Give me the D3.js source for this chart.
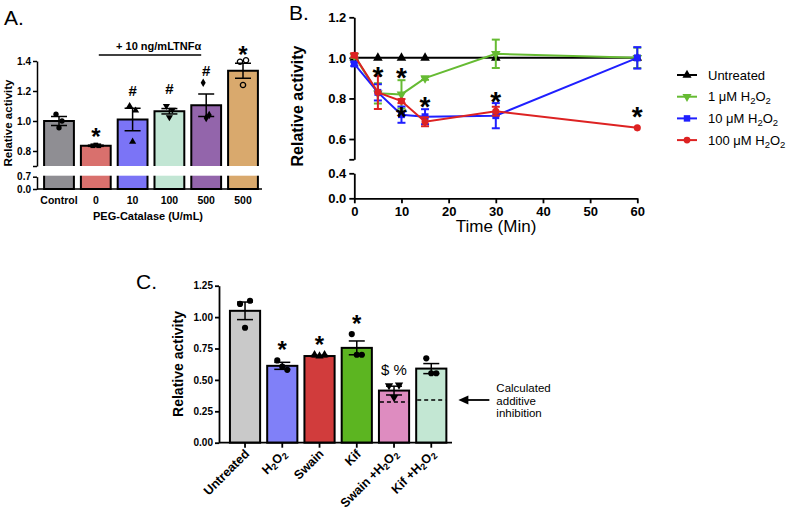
<!DOCTYPE html>
<html><head><meta charset="utf-8">
<script src="https://cdn.jsdelivr.net/npm/d3@7"></script>
<style>body{margin:0;background:#fff}svg{display:block}</style>
</head><body>
<script>
// ---------- Panel A data ----------
const catsA = ["Control","0","10","100","500","500"];
const meansA = [1.00, 0.835, 1.01, 1.065, 1.105, 1.335];
const semA = [0.03, 0.004, 0.075, 0.018, 0.075, 0.05];
const pointsA = [[1.045,1.0,0.955],[0.835,0.835,0.84],[1.10,1.07,0.862],[1.10,1.075,1.025],[1.255,1.04,1.02],[1.395,1.405,1.24]];
const colorsA = ["#8f8e93","#d9706d","#7b74f6","#c2e6d4","#9365ab","#d9a96d"];
const symA = ["circle","square","triangle","triangleDown","diamond","openCircle"];
const annA = [{i:1,t:"*",v:0.93},{i:2,t:"#",v:1.20},{i:3,t:"#",v:1.215},{i:4,t:"#",v:1.335},{i:5,t:"*",v:1.475}];
const ticksAtop = [0.8,1.0,1.2,1.4];
const ticksAbot = [0,0.7];

// ---------- Panel B data ----------
const timesB = [0,5,10,15,30,60];
const seriesB = [
  {name:"Untreated", sym:"triangle", color:"#000000", v:[1,1,1,1,1,1], e:[0,0,0,0,0,0]},
  {name:"1 μM H_2O_2", sym:"triangleDown", color:"#66bb33", v:[1.01,0.825,0.82,0.90,1.02,1.0], e:[0.01,0.05,0.07,0.008,0.07,0.05]},
  {name:"10 μM H_2O_2", sym:"square", color:"#1f1fff", v:[0.97,0.83,0.72,0.71,0.715,1.0], e:[0.01,0.04,0.04,0.037,0.062,0.053]},
  {name:"100 μM H_2O_2", sym:"circle", color:"#dd2222", v:[1.013,0.83,0.787,0.685,0.737,0.655], e:[0.01,0.082,0.01,0.022,0.022,0]}
];
const annB = [{t:5,v:0.939},{t:10,v:0.934},{t:10,v:0.742},{t:15,v:0.792},{t:30,v:0.816},{t:60,v:0.742}];
const xTicksB = [0,10,20,30,40,50,60];
const ticksBtop = [0.6,0.8,1.0,1.2];
const ticksBbot = [0,0.4];

// ---------- Panel C data ----------
const catsC = ["Untreated","H_2O_2","Swain","Kif","Swain +H_2O_2","Kif +H_2O_2"];
const meansC = [1.05, 0.612, 0.69, 0.755, 0.415, 0.59];
const semC = [0.07, 0.028, 0.006, 0.055, 0.035, 0.04];
const pointsC = [[1.105,1.13,0.915],[0.655,0.58,0.605],[0.70,0.70,0.69],[0.865,0.70,0.70],[0.455,0.46,0.36],[0.672,0.553,0.553]];
const colorsC = ["#c9c9c9","#8080f8","#d13c3c","#5cb521","#de8cc0","#c3e7d3"];
const symC = ["circle","circle","triangle","circle","triangleDown","circle"];
const dashedC = [null,null,null,null,0.325,0.34];
const annC = [{i:1,t:"*",v:0.78},{i:2,t:"*",v:0.82},{i:3,t:"*",v:0.99},{i:4,t:"$ %",v:0.58}];
const ticksC = [0,0.25,0.5,0.75,1.0,1.25];
const noteC = ["Calculated","additive","inhibition"];

// ---------- helpers ----------
const FONT = "'Liberation Sans', Arial, Helvetica, sans-serif";
const svg = d3.select("body").append("svg").attr("width",789).attr("height",511)
  .style("font-family", FONT);

function symPath(kind, size){
  let type = d3.symbolCircle, rot = 0;
  if (kind==="square") type = d3.symbolSquare;
  else if (kind==="triangle") type = d3.symbolTriangle;
  else if (kind==="triangleDown") { type = d3.symbolTriangle; rot = 180; }
  else if (kind==="diamond") type = d3.symbolDiamond;
  return {d: d3.symbol().type(type).size(size)(), rot};
}
function drawSym(g, kind, x, y, size, color){
  const s = symPath(kind, size);
  const p = g.append("path").attr("d", s.d)
    .attr("transform", `translate(${x},${y}) rotate(${s.rot})`);
  if (kind==="openCircle") p.attr("fill","none").attr("stroke",color).attr("stroke-width",1.3);
  else p.attr("fill",color);
  return p;
}
function rich(sel, str, subSize, shift){
  const parts = str.split(/_(\d)/);
  let shifted = false;
  parts.forEach((p,i)=>{
    if (p==="") return;
    if (i%2===1){ sel.append("tspan").attr("font-size",subSize).attr("dy",shift).text(p); shifted=true; }
    else { const t = sel.append("tspan").text(p); if (shifted){ t.attr("dy",-shift); shifted=false; } }
  });
}
function errBar(g, x, y1, y2, cap, color, w){
  g.append("line").attr("x1",x).attr("x2",x).attr("y1",y1).attr("y2",y2).attr("stroke",color).attr("stroke-width",w);
  [y1,y2].forEach(y=> g.append("line").attr("x1",x-cap).attr("x2",x+cap).attr("y1",y).attr("y2",y).attr("stroke",color).attr("stroke-width",w));
}
function styleAxis(g, fs, sw){
  g.selectAll("path,line").attr("stroke","#000").attr("stroke-width",sw);
  g.selectAll("text").attr("font-family",FONT).attr("font-weight","bold").attr("font-size",fs).attr("fill","#000");
}
const offs = [-5,5,0];

// ================= PANEL A =================
const gA = svg.append("g");
gA.append("text").attr("x",4).attr("y",25).attr("font-size",21).text("A.");
const xA = d3.scaleBand().domain(d3.range(catsA.length)).range([40.6,261.4]).paddingInner(0.19).paddingOuter(0.095);
const yAt = d3.scaleLinear().domain([0.7,1.4]).range([166,61]);
const yAb = d3.scaleLinear().domain([0,0.7]).range([189,176.7]);
const bwA = xA.bandwidth();
catsA.forEach((c,i)=>{
  gA.append("rect").attr("x",xA(i)).attr("y",yAt(meansA[i])).attr("width",bwA)
    .attr("height",yAb(0)-yAt(meansA[i])).attr("fill",colorsA[i]).attr("stroke","#000").attr("stroke-width",2);
});
// axis break
gA.append("rect").attr("x",38).attr("y",yAt(0.7)).attr("width",226).attr("height",yAb(0.7)-yAt(0.7)-1).attr("fill","#fff");
catsA.forEach((c,i)=>{
  const cx = xA(i)+bwA/2;
  pointsA[i].forEach((v,k)=> drawSym(gA, symA[i], cx+offs[k]*0.6, yAt(v), 22, "#000"));
  errBar(gA, cx, yAt(meansA[i]+semA[i]), yAt(meansA[i]-semA[i]), 8, "#000", 1.5);
});
annA.forEach(a=>{
  const cx = xA(a.i)+bwA/2;
  const fs = a.t==="*"?24:15;
  const off = a.t==="*"?0.57*fs:0.36*fs;
  gA.append("text").attr("x",cx).attr("y",yAt(a.v)+off).attr("text-anchor","middle")
    .attr("font-weight","bold").attr("font-size",fs).text(a.t);
});
const axAt = gA.append("g").attr("transform","translate(37,0)")
  .call(d3.axisLeft(yAt).tickValues([0.7,...ticksAtop]).tickSize(4).tickSizeOuter(0).tickPadding(2)
  .tickFormat(d=> d===0.7?"":d3.format(".1f")(d)));
styleAxis(axAt, 10, 1.5);
const axAb = gA.append("g").attr("transform","translate(37,0)")
  .call(d3.axisLeft(yAb).tickValues(ticksAbot).tickSize(4).tickSizeOuter(0).tickPadding(2).tickFormat(d3.format(".1f")));
styleAxis(axAb, 10, 1.5);
const axAx = gA.append("g").attr("transform",`translate(0,${yAb(0)})`)
  .call(d3.axisBottom(xA).tickSize(0).tickPadding(8).tickFormat(i=>catsA[i]));
axAx.select(".domain").attr("d",`M37,0H262`);
styleAxis(axAx, 10.5, 1.5);
gA.append("text").attr("x",148).attr("y",220).attr("text-anchor","middle").attr("font-weight","bold").attr("font-size",11).text("PEG-Catalase (U/mL)");
gA.append("text").attr("transform","translate(11.5,123) rotate(-90)").attr("text-anchor","middle").attr("font-weight","bold").attr("font-size",11.5).text("Relative activity");
const tnfX1 = xA(1)+bwA/2+3, tnfX2 = xA(4)+bwA/2-5;
gA.append("text").attr("x",tnfX2).attr("y",50).attr("text-anchor","end").attr("font-weight","bold").attr("font-size",11).text("+ 10 ng/mLTNFα");
gA.append("line").attr("x1",tnfX1).attr("x2",tnfX2).attr("y1",55).attr("y2",55).attr("stroke","#000").attr("stroke-width",1.3);

// ================= PANEL B =================
const gB = svg.append("g");
gB.append("text").attr("x",289).attr("y",20).attr("font-size",21).text("B.");
const xB = d3.scaleLinear().domain([0,60]).range([354.3,637.3]);
const yBt = d3.scaleLinear().domain([0.5,1.2]).range([159.3,17.3]);
const yBb = d3.scaleLinear().domain([0,0.4]).range([198.3,173.3]);
const axBt = gB.append("g").attr("transform","translate(354.3,0)")
  .call(d3.axisLeft(yBt).tickValues([0.5,...ticksBtop]).tickSize(5).tickSizeOuter(0).tickPadding(3)
  .tickFormat(d=> d===0.5?"":d3.format(".1f")(d)));
styleAxis(axBt, 13, 1.8);
const axBb = gB.append("g").attr("transform","translate(354.3,0)")
  .call(d3.axisLeft(yBb).tickValues(ticksBbot).tickSize(5).tickSizeOuter(0).tickPadding(3).tickFormat(d3.format(".1f")));
styleAxis(axBb, 13, 1.8);
const axBx = gB.append("g").attr("transform",`translate(0,${yBb(0)})`)
  .call(d3.axisBottom(xB).tickValues(xTicksB).tickSize(5).tickSizeOuter(0).tickPadding(3).tickFormat(d3.format("d")));
styleAxis(axBx, 13, 1.8);
gB.append("text").attr("x",496).attr("y",232).attr("text-anchor","middle").attr("font-size",17).text("Time (Min)");
gB.append("text").attr("transform","translate(303,106) rotate(-90)").attr("text-anchor","middle").attr("font-weight","bold").attr("font-size",16).text("Relative activity");
const lineB = d3.line().x((d,i)=>xB(timesB[i])).y(d=>yBt(d));
seriesB.forEach(s=>{
  gB.append("path").attr("d",lineB(s.v)).attr("fill","none").attr("stroke",s.color).attr("stroke-width",2);
  s.v.forEach((v,i)=>{
    if (s.e[i]>0) errBar(gB, xB(timesB[i]), yBt(v+s.e[i]), yBt(v-s.e[i]), 4, s.color, 2);
    drawSym(gB, s.sym, xB(timesB[i]), yBt(v), s.sym==="square"?48:40, s.color);
  });
});
annB.forEach(a=>{
  gB.append("text").attr("x",xB(a.t)).attr("y",yBt(a.v)+0.57*28).attr("text-anchor","middle")
    .attr("font-weight","bold").attr("font-size",28).text("*");
});
// legend
const legB = gB.append("g");
seriesB.forEach((s,i)=>{
  const y = 75 + i*21.7;
  legB.append("line").attr("x1",677).attr("x2",697).attr("y1",y).attr("y2",y).attr("stroke",s.color).attr("stroke-width",2);
  drawSym(legB, s.sym, 687, y, s.sym==="square"?42:36, s.color);
  const t = legB.append("text").attr("x",708).attr("y",y+4.5).attr("font-size",13);
  rich(t, s.name, 9.5, 3);
});

// ================= PANEL C =================
const gC = svg.append("g");
gC.append("text").attr("x",136).attr("y",289).attr("font-size",21).text("C.");
const xC = d3.scaleBand().domain(d3.range(catsC.length)).range([226.4,449.9]).paddingInner(0.19).paddingOuter(0.095);
const yC = d3.scaleLinear().domain([0,1.25]).range([442.7,285.7]);
const bwC = xC.bandwidth();
catsC.forEach((c,i)=>{
  const x0 = xC(i), cx = x0+bwC/2;
  gC.append("rect").attr("x",x0).attr("y",yC(meansC[i])).attr("width",bwC).attr("height",yC(0)-yC(meansC[i]))
    .attr("fill",colorsC[i]).attr("stroke","#000").attr("stroke-width",2);
  if (dashedC[i]!==null) gC.append("line").attr("x1",x0+1).attr("x2",x0+bwC-1).attr("y1",yC(dashedC[i])).attr("y2",yC(dashedC[i]))
    .attr("stroke","#000").attr("stroke-width",1.5).attr("stroke-dasharray","4,3");
  pointsC[i].forEach((v,k)=> drawSym(gC, symC[i], cx+offs[k], yC(v), 30, "#000"));
  errBar(gC, cx, yC(meansC[i]+semC[i]), yC(meansC[i]-semC[i]), 8, "#000", 1.5);
});
annC.forEach(a=>{
  const cx = xC(a.i)+bwC/2;
  if (a.t==="*") gC.append("text").attr("x",cx).attr("y",yC(a.v)+0.57*24).attr("text-anchor","middle")
    .attr("font-weight","bold").attr("font-size",24).text("*");
  else gC.append("text").attr("x",cx).attr("y",yC(a.v)+0.36*15).attr("text-anchor","middle")
    .attr("font-size",15).text(a.t);
});
const axCy = gC.append("g").attr("transform","translate(219,0)")
  .call(d3.axisLeft(yC).tickValues(ticksC).tickSize(4).tickSizeOuter(0).tickPadding(2).tickFormat(d3.format(".2f")));
styleAxis(axCy, 10, 1.8);
const axCx = gC.append("g").attr("transform",`translate(0,${yC(0)})`)
  .call(d3.axisBottom(xC).tickSize(5).tickSizeOuter(0).tickFormat(""));
axCx.select(".domain").attr("d","M219,0H452");
styleAxis(axCx, 10, 1.8);
catsC.forEach((c,i)=>{
  const cx = xC(i)+bwC/2;
  const t = gC.append("text").attr("transform",`translate(${cx+5},${yC(0)+12}) rotate(-45)`)
    .attr("text-anchor","end").attr("font-weight","bold").attr("font-size",12.5);
  rich(t, c, 9, 2.5);
});
gC.append("text").attr("transform","translate(183,364) rotate(-90)").attr("text-anchor","middle").attr("font-weight","bold").attr("font-size",14).text("Relative activity");
// arrow to calculated additive inhibition
const ay = yC(dashedC[5]);
const ax0 = xC(5)+bwC;
gC.append("line").attr("x1",ax0+43).attr("x2",ax0+20).attr("y1",ay).attr("y2",ay).attr("stroke","#000").attr("stroke-width",1.8);
gC.append("path").attr("d",`M${ax0+12},${ay}L${ax0+22},${ay-4.5}L${ax0+22},${ay+4.5}Z`).attr("fill","#000");
noteC.forEach((s,k)=> gC.append("text").attr("x",ax0+50).attr("y",392+k*12.5).attr("font-size",11.5).text(s));
</script>
</body></html>
